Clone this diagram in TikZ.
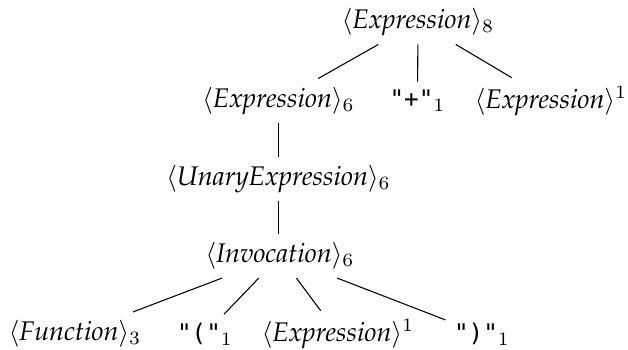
\documentclass[tikz,border=0pt]{standalone}
\usepackage[T1]{fontenc}
\usepackage{fontspec}
\newfontfamily\codefont{DejaVu Sans Mono}[Scale=0.9]
\usepackage{tikz}
\usetikzlibrary{positioning}

\newcommand{\pala}[1]{{\fontencoding{T1}\fontfamily{ppl}\itshape #1}}
\newcommand{\nterm}[1]{$\langle\mbox{\pala{#1}}\rangle$}
\newcommand{\term}[1]{{\codefont"#1"}}

\begin{document}
\begin{tikzpicture}[x=0.371pt, y=-0.371pt,
    every node/.style={inner sep=3pt}]
  \useasboundingbox (0,0) rectangle (628,349);

  % ---- Top: the sum ----
  \node (root)  at (418, 22)  {\nterm{Expression}$_8$};
  \node (exprL) at (278.5, 101) {\nterm{Expression}$_6$};
  \node (plus)  at (417.5, 101) {\term{+}$_1$};
  \node (exprR) at (551, 101) {\nterm{Expression}$^1$};

  % ---- Middle: unary chain ----
  \node (unary) at (278.5, 179) {\nterm{UnaryExpression}$_6$};
  \node (invoc) at (280, 256) {\nterm{Invocation}$_6$};

  % ---- Bottom: the call ----
  \node (func)   at (75, 334)  {\nterm{Function}$_3$};
  \node (lparen) at (205, 334) {\term{(}$_1$};
  \node (arg)    at (338, 334) {\nterm{Expression}$^1$};
  \node (rparen) at (482, 334) {\term{)}$_1$};

  \foreach \a/\b in {root/exprL, root/plus, root/exprR,
                     invoc/func, invoc/lparen, invoc/arg, invoc/rparen}
    \draw (\a) -- (\b);
  % vertical chain
  \draw (exprL) -- (exprL |- unary.north);
  \draw (unary) -- (unary |- invoc.north);
\end{tikzpicture}
\end{document}
